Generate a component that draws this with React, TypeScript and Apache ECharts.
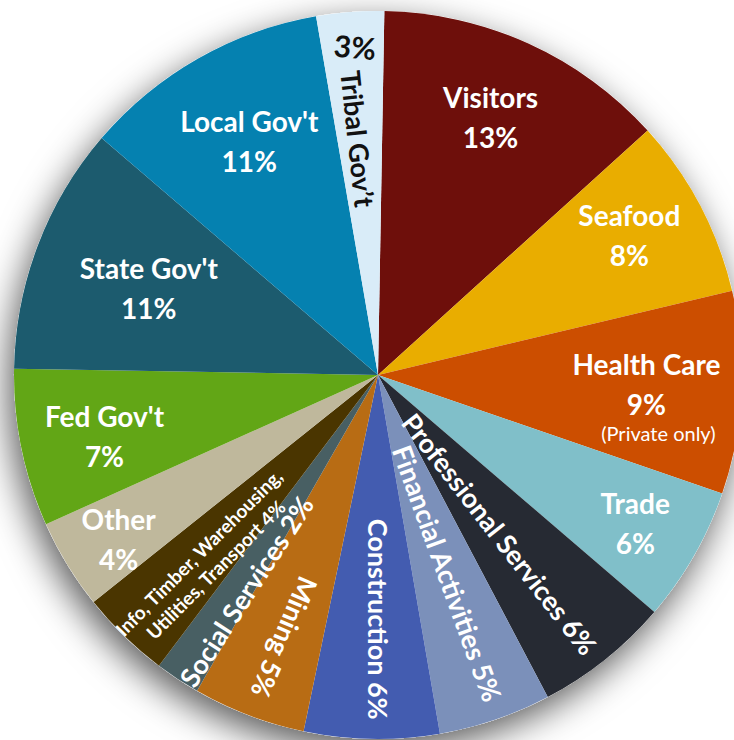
import React, { useEffect, useRef } from "react";
import * as echarts from "echarts";

// ---- data ----
const sectors = [
  "Visitors",
  "Seafood",
  "Health Care",
  "Trade",
  "Professional Services",
  "Financial Activities",
  "Construction",
  "Mining",
  "Social Services",
  "Info, Timber, Warehousing,\nUtilities, Transport",
  "Other",
  "Fed Gov't",
  "State Gov't",
  "Local Gov't",
  "Tribal Gov\u2019t",
];
const shares = [13, 8, 9, 6, 6, 5, 6, 5, 2, 4, 4, 7, 11, 11, 3];
const notes = ["", "", "(Private only)", "", "", "", "", "", "", "", "", "", "", "", ""];

// ---- styles ----
const colors = [
  "#6e0f0b",
  "#e9ad00",
  "#cc4e00",
  "#80bfc9",
  "#262a33",
  "#7b90ba",
  "#435cb0",
  "#b86c14",
  "#485f63",
  "#4a3500",
  "#bfb89c",
  "#62a616",
  "#1c5b6e",
  "#0581b0",
  "#d9ecf8",
];
// label kind: h = horizontal two lines, r = radial single line, i = radial two lines small, t = tribal
const kinds = ["h", "h", "h", "h", "r", "r", "r", "r", "r", "i", "h", "h", "h", "h", "t"];
// label placement relative to pie centre: radius fraction, angle (deg, ccw from east), rotation
const placement = [
  { r: 0.774, a: 66.45, rot: 0 },
  { r: 0.79, a: 29.07, rot: 0 },
  { r: 0.739, a: -3.86, rot: 0 },
  { r: 0.815, a: -29.87, rot: 0 },
  { r: 0.55, a: -52.55, rot: -52 },
  { r: 0.577, a: -70.7, rot: -70 },
  { r: 0.671, a: -89.8, rot: -90 },
  { r: 0.765, a: -109.6, rot: -113 },
  { r: 0.696, a: -121.4, rot: 57 },
  { r: 0.694, a: -132.6, rot: 45 },
  { r: 0.843, a: -147.7, rot: 0 },
  { r: 0.77, a: -167.4, rot: 0 },
  { r: 0.673, a: 159.3, rot: 0 },
  { r: 0.734, a: 118.8, rot: 0 },
  { r: 0.651, a: 94.86, rot: -84 },
];
const tribalPctPlacement = { r: 0.905, a: 94.0, rot: -5 };

const CX = 378;
const CY = 375;
const R = 364;
const FONT = "Lato, 'Open Sans', sans-serif";

function pt(p: { r: number; a: number }) {
  const rad = (p.a * Math.PI) / 180;
  return { x: CX + p.r * R * Math.cos(rad), y: CY - p.r * R * Math.sin(rad) };
}

export default function App() {
  const ref = useRef<HTMLDivElement>(null);

  useEffect(() => {
    if (!ref.current) return;
    const chart = echarts.init(ref.current, undefined, { renderer: "svg" });

    const data = sectors.map((name, i) => ({
      name,
      value: shares[i],
      itemStyle: { color: colors[i] },
    }));

    const rich = {
      b: { fontFamily: FONT, fontSize: 28, fontWeight: "bold", color: "#ffffff", lineHeight: 40 },
      s: { fontFamily: FONT, fontSize: 20, fontWeight: "normal", color: "#ffffff", lineHeight: 18, padding: [0, 0, 0, 24] },
      r: { fontFamily: FONT, fontSize: 27, fontWeight: "bold", color: "#ffffff", lineHeight: 30 },
      i: { fontFamily: FONT, fontSize: 19, fontWeight: "bold", color: "#ffffff", lineHeight: 24 },
      t: { fontFamily: FONT, fontSize: 27, fontWeight: "bold", color: "#111111", lineHeight: 30 },
      p: { fontFamily: FONT, fontSize: 30, fontWeight: "bold", color: "#111111", lineHeight: 32 },
    };

    const option: any = {
      animation: false,
      backgroundColor: "#ffffff",
      series: [
        {
          type: "pie",
          silent: true,
          center: [CX, CY],
          radius: [0, R],
          z: 1,
          label: { show: false },
          labelLine: { show: false },
          itemStyle: {
            color: "#ffffff",
            shadowBlur: 36,
            shadowColor: "rgba(0,0,0,0.65)",
            shadowOffsetX: -5,
            shadowOffsetY: 12,
          },
          data: [{ value: 1, name: "" }],
        },
        {
          type: "pie",
          center: [CX, CY],
          radius: [0, R],
          z: 2,
          startAngle: 89,
          clockwise: true,
          avoidLabelOverlap: false,
          emphasis: { disabled: true },
          labelLine: { show: false },
          itemStyle: { borderWidth: 0 },
          label: {
            show: true,
            position: "inside",
            align: "center",
            verticalAlign: "middle",
            rich,
            formatter: (p: any) => {
              const i = p.dataIndex;
              const k = kinds[i];
              const name = sectors[i];
              const pct = `${shares[i]}%`;
              if (k === "h") {
                let s = `{b|${name}}\n{b|${pct}}`;
                if (notes[i]) s += `\n{s|${notes[i]}}`;
                return s;
              }
              if (k === "r") return `{r|${name} ${pct}}`;
              if (k === "i") {
                const lines = name.split("\n");
                lines[lines.length - 1] += ` ${pct}`;
                return lines.map((l) => `{i|${l}}`).join("\n");
              }
              return `{t|${name}}`;
            },
          },
          labelLayout: (params: any) => {
            const p = placement[params.dataIndex];
            const q = pt(p);
            return { x: q.x, y: q.y, rotate: p.rot, align: "center", verticalAlign: "middle" };
          },
          data,
        },
        {
          type: "pie",
          silent: true,
          center: [CX, CY],
          radius: [0, R],
          z: 3,
          startAngle: 89,
          clockwise: true,
          avoidLabelOverlap: false,
          labelLine: { show: false },
          itemStyle: { color: "rgba(0,0,0,0)" },
          label: {
            show: true,
            position: "inside",
            align: "center",
            verticalAlign: "middle",
            rich,
            formatter: (p: any) => (kinds[p.dataIndex] === "t" ? `{p|${shares[p.dataIndex]}%}` : ""),
          },
          labelLayout: (params: any) => {
            if (kinds[params.dataIndex] !== "t") return {};
            const q = pt(tribalPctPlacement);
            return { x: q.x, y: q.y, rotate: tribalPctPlacement.rot, align: "center", verticalAlign: "middle" };
          },
          data: sectors.map((name, i) => ({ name, value: shares[i] })),
        },
      ],
    };

    chart.setOption(option);
    return () => chart.dispose();
  }, []);

  return (
    <div
      ref={ref}
      style={{ position: "fixed", left: 0, top: 0, width: 734, height: 740 }}
    />
  );
}
